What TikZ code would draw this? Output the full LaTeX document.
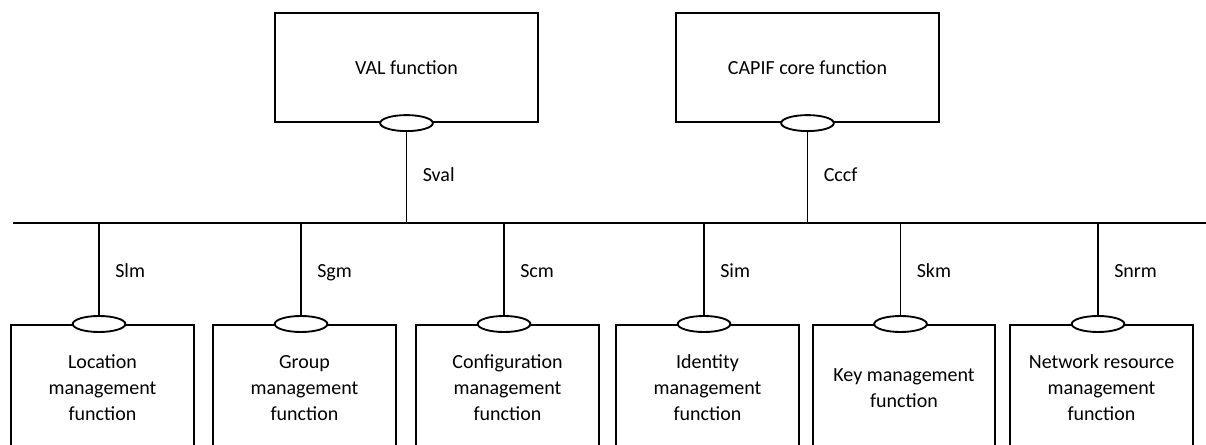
\documentclass[tikz,border=0pt]{standalone}
\usepackage{fontspec}
\setmainfont{Carlito}
\usetikzlibrary{shapes.geometric,positioning}

\tikzset{
  wire/.style={line width=1.4pt},
  func/.style={draw, wire, align=center, inner sep=2pt,
    font=\fontsize{15}{19.5}\selectfont},
  topfunc/.style={func, minimum width=197pt, minimum height=82pt},
  subfunc/.style={func, anchor=north, minimum width=137pt, minimum height=94.5pt},
  port/.style={draw, wire, ellipse, fill=white, inner sep=0pt,
    minimum width=39.5pt, minimum height=12pt},
  ifname/.style={anchor=base west, inner sep=0pt, xshift=12pt,
    font=\fontsize{15}{18}\selectfont}
}

\begin{document}
\begin{tikzpicture}[x=0.75pt, y=-0.75pt]
  \clip (0,0) rectangle (1206,445);

  % bus
  \coordinate (busl) at (13,223);
  \coordinate (busr) at (1206,223);
  \draw[wire] (busl) -- (busr);

  % upper functions
  \node[topfunc] (val) at (406.5,67.5) {VAL function};
  \node[topfunc] (capif) at (807.5,67.5) {CAPIF core function};
  \node[port] (valp) at (val.south) {};
  \node[port] (capifp) at (capif.south) {};
  \draw[wire] (valp.south) -- (valp.south |- busl);
  \draw[wire] (capifp.south) -- (capifp.south |- busl);
  \node[ifname] at (valp.south |- 0,182) {Sval};
  \node[ifname] at (capifp.south |- 0,182) {Cccf};

  % lower functions
  \node[subfunc] (loc) at (102.5,324) {Location\\management\\function};
  \node[subfunc] (grp) at (304.5,324) {Group\\management\\function};
  \node[subfunc] (cfg) at (507.5,324) {Configuration\\management\\function};
  \node[subfunc] (idm) at (707.5,324) {Identity\\management\\function};
  \node[subfunc] (key) at (904,324) {Key management\\function};
  \node[subfunc] (nrm) at (1101.5,324) {Network resource\\management\\function};

  \node[port] (locp) at ([xshift=-2.6pt]loc.north) {};
  \node[port] (grpp) at ([xshift=-2.6pt]grp.north) {};
  \node[port] (cfgp) at ([xshift=-2.6pt]cfg.north) {};
  \node[port] (idmp) at ([xshift=-2.6pt]idm.north) {};
  \node[port] (keyp) at ([xshift=-2.6pt]key.north) {};
  \node[port] (nrmp) at ([xshift=-2.6pt]nrm.north) {};

  \draw[wire] (locp.north) -- (locp.north |- busl);
  \draw[wire] (grpp.north) -- (grpp.north |- busl);
  \draw[wire] (cfgp.north) -- (cfgp.north |- busl);
  \draw[wire] (idmp.north) -- (idmp.north |- busl);
  \draw[wire] (keyp.north) -- (keyp.north |- busl);
  \draw[wire] (nrmp.north) -- (nrmp.north |- busl);

  \node[ifname] at (locp.north |- 0,277) {Slm};
  \node[ifname] at (grpp.north |- 0,277) {Sgm};
  \node[ifname] at (cfgp.north |- 0,277) {Scm};
  \node[ifname] at (idmp.north |- 0,277) {Sim};
  \node[ifname] at (keyp.north |- 0,277) {Skm};
  \node[ifname] at (nrmp.north |- 0,277) {Snrm};
\end{tikzpicture}
\end{document}
